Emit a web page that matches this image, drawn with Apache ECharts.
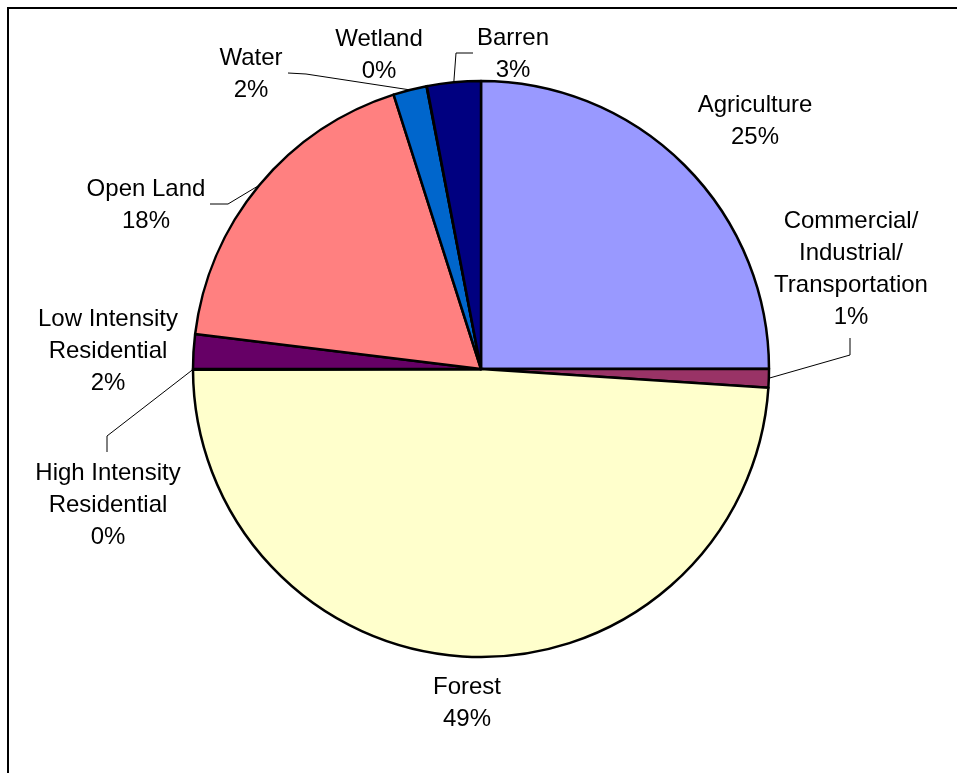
<!DOCTYPE html>
<html><head><meta charset="utf-8">
<script src="https://cdn.jsdelivr.net/npm/echarts@6/dist/echarts.min.js"></script>
<style>html,body{margin:0;padding:0;background:#fff}#c{width:957px;height:773px}</style>
</head><body><div id="c"></div>
<script>
const categories = ['Agriculture','Commercial/\nIndustrial/\nTransportation','Forest','High Intensity\nResidential','Low Intensity\nResidential','Open Land','Water','Wetland','Barren'];
const values = [25.0, 1.05, 48.95, 0.04, 1.94, 18.17, 1.88, 0.02, 3.01];
const colors = ['#9999FF','#993366','#FFFFCC','#CCFFFF','#660066','#FF8080','#0066CC','#CCCCFF','#000080'];
// layout only: label centres, leader elbow & end points (null = no leader)
const labelPos = [[755,121],[851,269],[467,703],[108,505],[108,351],[146,205],[251,74],[379,55],[513,54]];
const leaders = [null,[[850,355],[850,338]],null,[[107,436],[107,452]],null,[[228,204],[210,204]],[[306,74],[288,73]],null,[[456,53],[473,53]]];

const CX = 481, CY = 369, R = 288;
const total = values.reduce((a,b)=>a+b,0);
const cum = []; let acc = 0;
values.forEach(v => { cum.push(acc + v/2); acc += v; });

const chart = echarts.init(document.getElementById('c'), null, {renderer:'canvas'});
chart.setOption({
  backgroundColor:'#fff',
  animation:false,
  graphic:[{type:'rect', silent:true, z:-1, shape:{x:8,y:8,width:2000,height:2000}, style:{fill:'none', stroke:'#000', lineWidth:2}}],
  series:[{
    type:'pie',
    center:[CX,CY],
    radius:R,
    startAngle:90,
    clockwise:true,
    avoidLabelOverlap:false,
    itemStyle:{borderColor:'#000', borderWidth:2.5},
    emphasis:{disabled:true},
    label:{show:true, position:'outside',
      formatter: p => p.name + '\n' + Math.round(p.percent) + '%',
      color:'#000', fontFamily:'"Liberation Sans", Arial, sans-serif', fontSize:24, lineHeight:32, align:'center'},
    labelLine:{show:true, length:10, length2:10, lineStyle:{color:'#000', width:1}},
    labelLayout: function(p){
      const i = p.dataIndex;
      const r = {x:labelPos[i][0], y:labelPos[i][1], align:'center', verticalAlign:'middle'};
      if (leaders[i]) {
        let start;
        if (p.labelLinePoints && p.labelLinePoints[0]) start = p.labelLinePoints[0];
        else { const a = cum[i]/total*2*Math.PI; start = [CX + R*Math.sin(a), CY - R*Math.cos(a)]; }
        r.labelLinePoints = [start, leaders[i][0], leaders[i][1]];
      }
      return r;
    },
    data: categories.map((n,i)=>({name:n, value:values[i], itemStyle:{color:colors[i]}, labelLine:{show: !!leaders[i]}}))
  }]
});
</script></body></html>
